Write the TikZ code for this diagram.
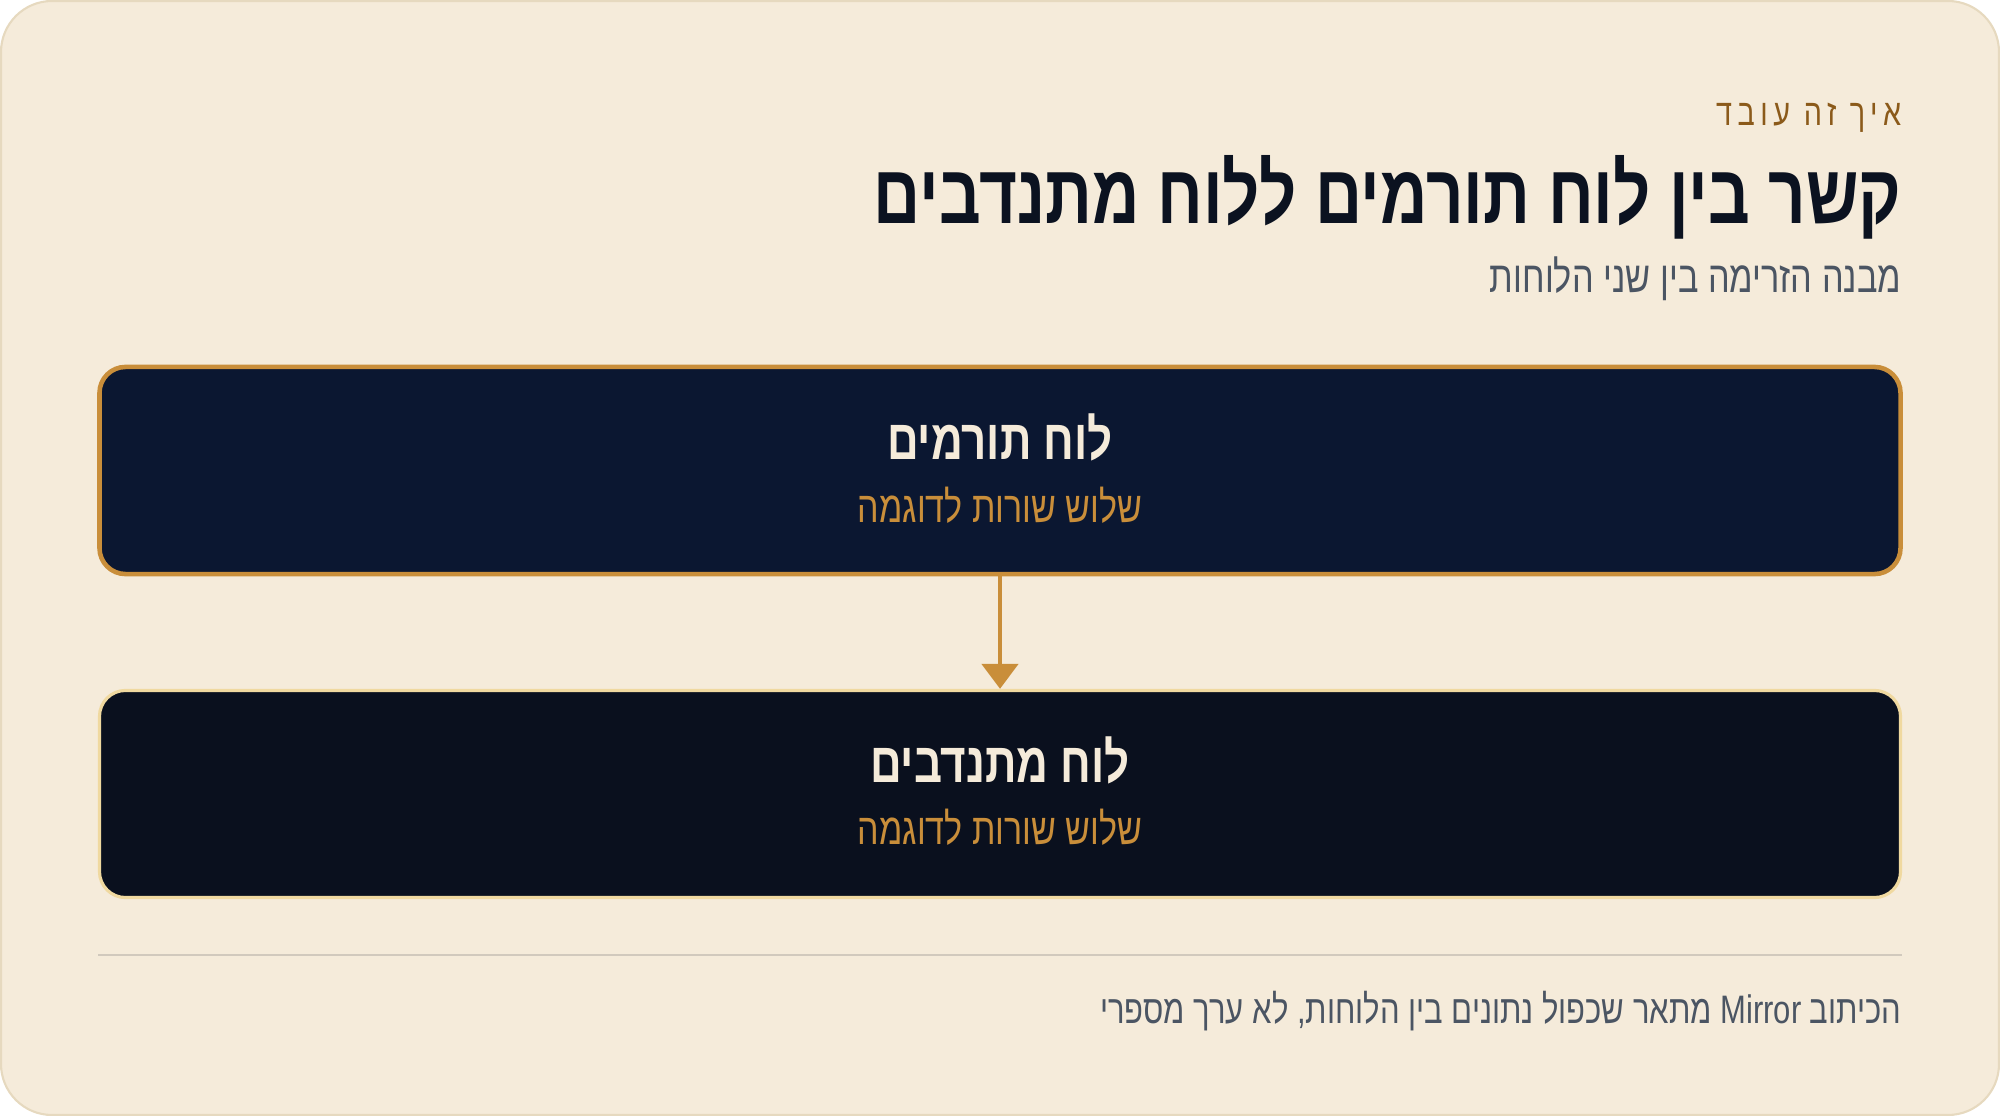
\documentclass[tikz,border=0pt]{standalone}
\usepackage{fontspec}
\usetikzlibrary{arrows.meta,positioning}
\setmainfont{Liberation Sans}
\newfontfamily\hebfont[Script=Hebrew,FakeStretch=0.78]{Liberation Sans}
\TeXXeTstate=1

\definecolor{pagebg}{HTML}{F5EBDA}
\definecolor{pageedge}{HTML}{E6D9BF}
\definecolor{eyebrow}{HTML}{8B5A1A}
\definecolor{inkdark}{HTML}{0B1220}
\definecolor{slate}{HTML}{4B5563}
\definecolor{navy}{HTML}{0B1731}
\definecolor{night}{HTML}{0A101E}
\definecolor{gold}{HTML}{C98E3A}
\definecolor{palegold}{HTML}{F0D9A0}
\definecolor{cream}{HTML}{F5EBDA}
\definecolor{rule}{HTML}{D1C9BD}

\tikzset{
  board/.style={rounded corners=0.26cm, minimum width=18cm, minimum height=2.07cm},
  boardtitle/.style={text=cream, font=\hebfont\bfseries\fontsize{16}{18}\selectfont},
  boardnote/.style={text=gold, font=\hebfont\fontsize{12.4}{14}\selectfont},
  flow/.style={draw=gold, line width=1.4pt, -{Triangle[width=0.36cm,length=0.25cm]}},
  heading/.style={anchor=east, inner sep=0pt}
}

\begin{document}
\begin{tikzpicture}[x=0.01cm,y=-0.01cm]
    \useasboundingbox (0,0) rectangle (2000,1116);

    % Page card
    \draw[pageedge, fill=pagebg, line width=0.6pt, rounded corners=0.51cm] (1,1) rectangle (1999,1115);

    % Header
    \node[heading, text=eyebrow, font=\hebfont\addfontfeature{LetterSpace=15}\fontsize{10.5}{12}\selectfont] (eyebrowtext) at (1902,118) {\beginR איך זה עובד\endR};
    \node[heading, text=inkdark, font=\hebfont\bfseries\fontsize{23.8}{26}\selectfont] (headline) at (1902,197) {\beginR קשר בין לוח תורמים ללוח מתנדבים\endR};
    \node[heading, text=slate, font=\hebfont\fontsize{12.5}{14}\selectfont] (subline) at (1902,279) {\beginR מבנה הזרימה בין שני הלוחות\endR};

    % Boards
    \node[board, draw=gold, fill=navy, line width=1.3pt] (donors) at (1000,470.5) {};
    \node[boardtitle] (donorstitle) at (1000,437) {\beginR לוח תורמים\endR};
    \node[boardnote] (donorsnote) at (1000,505) {\beginR שלוש שורות לדוגמה\endR};

    \node[board, draw=palegold, fill=night, line width=0.9pt] (volunteers) at (1000,794) {};
    \node[boardtitle] (volunteerstitle) at (1000,760) {\beginR לוח מתנדבים\endR};
    \node[boardnote] (volunteersnote) at (1000,827) {\beginR שלוש שורות לדוגמה\endR};

    % Connector
    \draw[flow] (donors.south) -- (volunteers.north);

    % Footer
    \draw[rule, line width=0.6pt] (98,955) -- (1902,955);
    \node[heading, text=slate, font=\hebfont\fontsize{11.3}{13}\selectfont] (footnote) at (1902,1011) {\beginR הכיתוב \beginL Mirror\endL{} מתאר שכפול נתונים בין הלוחות, לא ערך מספרי\endR};
\end{tikzpicture}
\end{document}
